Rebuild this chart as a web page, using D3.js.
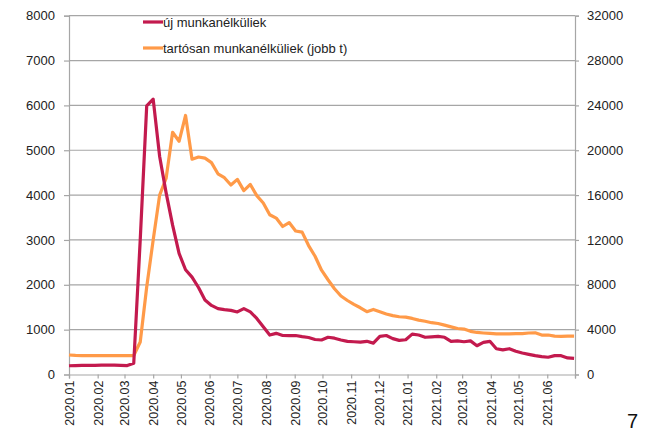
<!DOCTYPE html>
<html>
<head>
<meta charset="utf-8">
<script src="https://cdn.jsdelivr.net/npm/d3@7"></script>
<style>
  html, body { margin: 0; padding: 0; background: #fff; }
  svg { display: block; }
  text { font-family: "Liberation Sans", Arial, sans-serif; }
</style>
</head>
<body>
<svg id="chart" width="647" height="433"></svg>
<script>
// ---- data ----
const startDate = "2020-01-01"; // first weekly observation
const seriesNames = ["új munkanélküliek", "tartósan munkanélküliek (jobb t)"];
// új munkanélküliek (left axis), weekly
const newUnemployed = [
  195, 200, 205, 205, 205, 210, 210, 210, 205, 200,
  250, 3000, 5990, 6140, 4860, 4050, 3330, 2700, 2335, 2170,
  1940, 1660, 1540, 1470, 1445, 1430, 1395, 1470, 1395, 1250,
  1066, 880, 918, 870, 865, 870, 845, 825, 780, 769,
  830, 810, 770, 740, 730, 720, 740, 700, 850, 870,
  800, 760, 775, 900, 880, 830, 840, 850, 830, 740,
  750, 730, 750, 642, 715, 740, 575, 550, 575, 520,
  480, 450, 420, 400, 385, 420, 420, 370, 360
];
// tartósan munkanélküliek (right axis), weekly
const longTermUnemployed = [
  1740, 1700, 1690, 1690, 1690, 1690, 1690, 1680, 1680, 1680,
  1690, 2900, 7800, 12000, 16000, 17500, 21600, 20800, 23100, 19200,
  19400, 19300, 18900, 17900, 17550, 16900, 17400, 16400, 16950, 15950,
  15300, 14250, 13950, 13200, 13550, 12800, 12700, 11500, 10550, 9300,
  8450, 7650, 7000, 6600, 6250, 5950, 5600, 5800, 5600, 5400,
  5250, 5150, 5120, 5000, 4850, 4750, 4620, 4550, 4400, 4250,
  4100, 4050, 3850, 3750, 3700, 3660, 3620, 3620, 3620, 3640,
  3650, 3700, 3720, 3520, 3520, 3420, 3400, 3420, 3420
];
const leftTicks = [0, 1000, 2000, 3000, 4000, 5000, 6000, 7000, 8000];
const rightTicks = [0, 4000, 8000, 12000, 16000, 20000, 24000, 28000, 32000];
const monthTicks = ["2020.01","2020.02","2020.03","2020.04","2020.05","2020.06",
  "2020.07","2020.08","2020.09","2020.10","2020.11","2020.12",
  "2021.01","2021.02","2021.03","2021.04","2021.05","2021.06"];
const pageNumber = "7";

// ---- build ----
const parseDay = d3.utcParse("%Y-%m-%d");
const parseMonth = d3.utcParse("%Y.%m");
const d0 = parseDay(startDate);
const dates = newUnemployed.map((_, i) => d3.utcDay.offset(d0, i * 7));

const svg = d3.select("#chart");
const margin = { left: 69, right: 72, top: 15.7, bottom: 58.5 };
const W = 647, H = 433;

const x = d3.scaleUtc()
  .domain([parseMonth("2020.01"), parseMonth("2021.07")])
  .range([margin.left, W - margin.right]);
const yL = d3.scaleLinear().domain([0, 8000]).range([H - margin.bottom, margin.top]);
const yR = d3.scaleLinear().domain([0, 32000]).range([H - margin.bottom, margin.top]);

const gridColor = "#a6a6a6";

// gridlines
svg.append("g")
  .selectAll("line")
  .data(leftTicks.filter(t => t > 0))
  .join("line")
  .attr("x1", margin.left).attr("x2", W - margin.right)
  .attr("y1", d => yL(d)).attr("y2", d => yL(d))
  .attr("stroke", gridColor).attr("stroke-width", 1.2);

// left axis
const gL = svg.append("g")
  .attr("transform", `translate(${margin.left},0)`)
  .call(d3.axisLeft(yL).tickValues(leftTicks).tickSize(5).tickPadding(9).tickFormat(d3.format("d")));
gL.select(".domain").attr("stroke", gridColor).attr("stroke-width", 1.2);
gL.selectAll(".tick line").attr("stroke", gridColor).attr("stroke-width", 1.2);
gL.selectAll(".tick text").attr("font-size", 13).attr("fill", "#222")
  .attr("font-family", "'Liberation Sans', Arial, sans-serif");

// right axis
const gR = svg.append("g")
  .attr("transform", `translate(${W - margin.right},0)`)
  .call(d3.axisRight(yR).tickValues(rightTicks).tickSize(4).tickPadding(8).tickFormat(d3.format("d")));
gR.select(".domain").attr("stroke", gridColor).attr("stroke-width", 1.2);
gR.selectAll(".tick line").attr("stroke", gridColor).attr("stroke-width", 1.2);
gR.selectAll(".tick text").attr("font-size", 13).attr("fill", "#222")
  .attr("font-family", "'Liberation Sans', Arial, sans-serif");

// bottom axis
const gB = svg.append("g")
  .attr("transform", `translate(0,${H - margin.bottom})`)
  .call(d3.axisBottom(x)
    .tickValues(monthTicks.map(parseMonth).concat([parseMonth("2021.07")]))
    .tickSize(4)
    .tickFormat(d => {
      const s = d3.utcFormat("%Y.%m")(d);
      return monthTicks.includes(s) ? s : "";
    }));
gB.select(".domain").attr("stroke", gridColor).attr("stroke-width", 1.2);
gB.selectAll(".tick line").attr("stroke", gridColor).attr("stroke-width", 1.2);
gB.selectAll(".tick text")
  .attr("font-size", 12.5).attr("fill", "#222")
  .attr("font-family", "'Liberation Sans', Arial, sans-serif")
  .attr("text-anchor", "end")
  .attr("dy", "0.35em")
  .attr("transform", "translate(0,6) rotate(-90)")
  .attr("x", 0).attr("y", 0);

// lines
const lineL = d3.line().x((d, i) => x(dates[i])).y(d => yL(d));
const lineR = d3.line().x((d, i) => x(dates[i])).y(d => yR(d));
const redColor = "#c31a4e";
const orangeColor = "#ff9a48";

svg.append("path").datum(longTermUnemployed)
  .attr("d", lineR).attr("fill", "none")
  .attr("stroke", orangeColor).attr("stroke-width", 3.2)
  .attr("stroke-linejoin", "round");
svg.append("path").datum(newUnemployed)
  .attr("d", lineL).attr("fill", "none")
  .attr("stroke", redColor).attr("stroke-width", 3.2)
  .attr("stroke-linejoin", "round");

// legend
const legend = svg.append("g");
const legendItems = [
  { name: seriesNames[0], color: redColor, y: 22 },
  { name: seriesNames[1], color: orangeColor, y: 48 }
];
legendItems.forEach(it => {
  legend.append("line")
    .attr("x1", 143).attr("x2", 163)
    .attr("y1", it.y).attr("y2", it.y)
    .attr("stroke", it.color).attr("stroke-width", 3.2);
  legend.append("text")
    .attr("x", 163).attr("y", it.y).attr("dy", "0.35em")
    .attr("font-size", 13).attr("fill", "#222")
    .attr("font-family", "Lato, 'Open Sans', sans-serif")
    .text(it.name);
});

// page number
svg.append("text")
  .attr("x", 627).attr("y", 428)
  .attr("font-size", 20).attr("fill", "#111")
  .attr("font-family", "'Liberation Sans', Arial, sans-serif")
  .text(pageNumber);
</script>
</body>
</html>
